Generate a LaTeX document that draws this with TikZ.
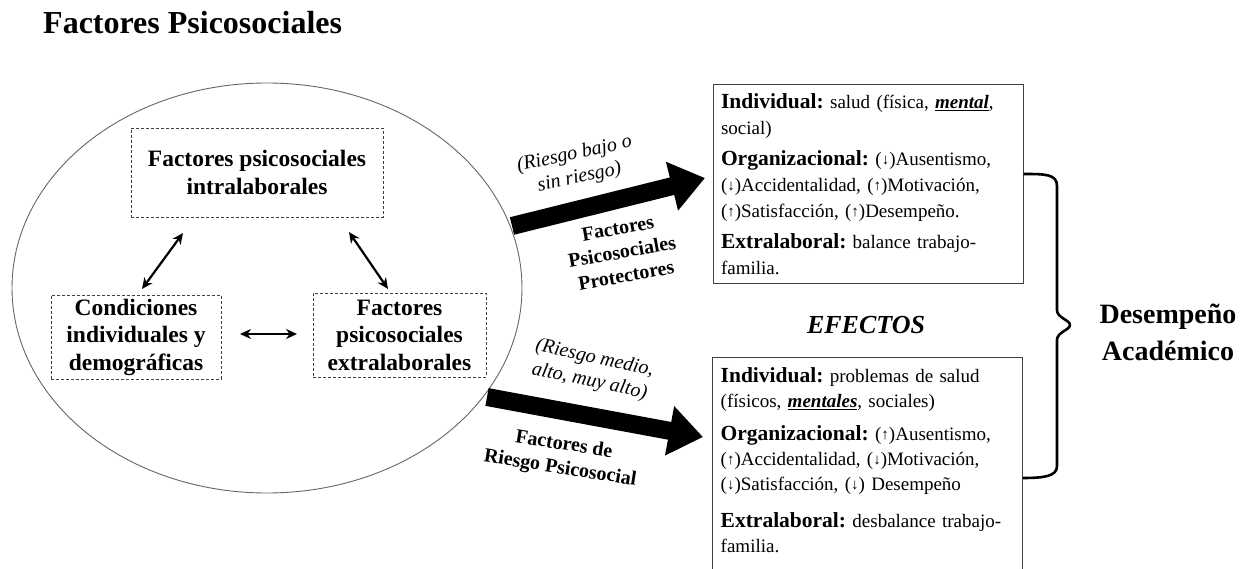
\documentclass[tikz,border=0pt]{standalone}
\usepackage{fontspec}
\setmainfont{Liberation Serif}[ItalicFont={Liberation Serif Italic},BoldFont={Liberation Serif Bold},BoldItalicFont={Liberation Serif Bold Italic}]
\usetikzlibrary{arrows.meta,shapes.geometric,calc}
\frenchspacing
\newcommand\fsz[2]{\fontsize{#1}{#2}\selectfont}
\newcommand\arrup{{\fsz{15}{15}\raisebox{1pt}{↑}}}
\newcommand\arrdn{{\fsz{15}{15}\raisebox{1pt}{↓}}}
\newcommand\hdr[1]{{\fsz{21.5}{25}\bfseries #1}}
\newcommand\ulbi[1]{{\setbox0\hbox{\textbf{\textit{#1}}}\rlap{\rule[-3pt]{\wd0}{1.6pt}}\box0}}
\begin{document}
\begin{tikzpicture}[x=1pt,y=-1pt,
  dbox/.style={draw=black!75, dash pattern=on 3pt off 2pt, line width=0.8pt, align=center, inner sep=0pt, font=\fsz{23.5}{27.5}\bfseries},
  dbl/.style={{Stealth[length=11pt,width=10pt]}-{Stealth[length=11pt,width=10pt]}, line width=2.2pt},
  big/.style={line width=18pt, -{Triangle[length=34pt,width=48pt]}},
  effbox/.style={anchor=north west, text width=294pt, inner xsep=8pt, inner ysep=9pt, align=left, font=\fsz{19}{26}\frenchspacing},
  boxline/.style={draw=black!75, line width=1pt},
  lab/.style={font=\fsz{20}{24}\itshape, align=center},
  labb/.style={font=\fsz{20}{24}\bfseries, align=center}]
\useasboundingbox (0,0) rectangle (1243,569);

% title
\node[anchor=base west, font=\fsz{32}{36}\bfseries, inner sep=0pt] (title) at (43,34) {Factores Psicosociales};

% ellipse
\node[draw=black!60, line width=0.9pt, ellipse, minimum width=510pt, minimum height=410pt, inner sep=0pt] (circ) at (267,288) {};

% dashed boxes
\node[dbox, minimum width=252pt, minimum height=89pt] (t) at (257,172.5) {Factores psicosociales\\intralaborales};
\node[dbox, minimum width=170pt, minimum height=84pt] (l) at (136,337) {Condiciones\\individuales y\\demográficas};
\node[dbox, minimum width=173pt, minimum height=84pt] (r) at (399.5,335) {Factores\\psicosociales\\extralaborales};

% double arrows
\coordinate (d1a) at (183,233); \coordinate (d1b) at (142,289);
\coordinate (d2a) at (349,232); \coordinate (d2b) at (388,289);
\coordinate (d3a) at (240,334); \coordinate (d3b) at (297,334);
\draw[dbl] (d1a) -- (d1b);
\draw[dbl] (d2a) -- (d2b);
\draw[dbl] (d3a) -- (d3b);

% effect boxes
\node[effbox, draw=black!75, line width=1pt] (eff1) at (712.5,84) {%
\hdr{Individual:} salud (física, \ulbi{mental},\\
social)\\[5pt]
\hdr{Organizacional:} (\arrdn)Ausentismo,\\
(\arrdn)Accidentalidad, (\arrup)Motivación,\\
(\arrup)Satisfacción, (\arrup)Desempeño.\\[5pt]
\hdr{Extralaboral:} balance trabajo-\\
familia.};

\node[effbox, font=\fsz{19}{25}\frenchspacing] (eff2) at (712.5,358) {%
\hdr{Individual:} problemas de salud\\
(físicos, \ulbi{mentales}, sociales)\\[8pt]
\hdr{Organizacional:} (\arrup)Ausentismo,\\
(\arrup)Accidentalidad, (\arrdn)Motivación,\\
(\arrdn)Satisfacción, (\arrdn) Desempeño\\[12pt]
\hdr{Extralaboral:} desbalance trabajo-\\
familia.};
\draw[boxline] ($(eff2.south west)+(0,40)$) -- (eff2.north west) -- (eff2.north east) -- ($(eff2.south east)+(0,40)$);

% big arrows
\coordinate (a1s) at (512,226); \coordinate (a1e) at (705,178);
\coordinate (a2s) at (487,397); \coordinate (a2e) at (703,437);
\draw[big] (a1s) -- (a1e);
\draw[big] (a2s) -- (a2e);

% arrow labels
\node[lab, rotate=12] (l1) at (577,166) {(Riesgo bajo o\\sin riesgo)};
\node[labb, rotate=10] (l2) at (622,252) {Factores\\Psicosociales\\Protectores};
\node[lab, rotate=-12] (l3) at (592,370) {(Riesgo medio,\\alto, muy alto)};
\node[labb, rotate=-9] (l4) at (562,457) {Factores de\\Riesgo Psicosocial};

% EFECTOS
\node[font=\fsz{26}{30}\bfseries\itshape] (efe) at (866,325) {EFECTOS};

% brace
\coordinate (bt) at (eff1.east |- 0,174);
\coordinate (bb) at (eff2.east |- 0,478);
\draw[line width=2.6pt, line join=round] (bt) .. controls (1045,174) and (1057,174) .. (1057,186)
  -- (1057,310) .. controls (1057,318) and (1070,320) .. (1070,325)
  .. controls (1070,330) and (1057,332) .. (1057,340)
  -- (1057,466) .. controls (1057,476) and (1045,478) .. (bb);

% result
\node[font=\fsz{28}{37}\bfseries, align=center] (des) at (1168,332) {Desempeño\\Académico};
\end{tikzpicture}
\end{document}
